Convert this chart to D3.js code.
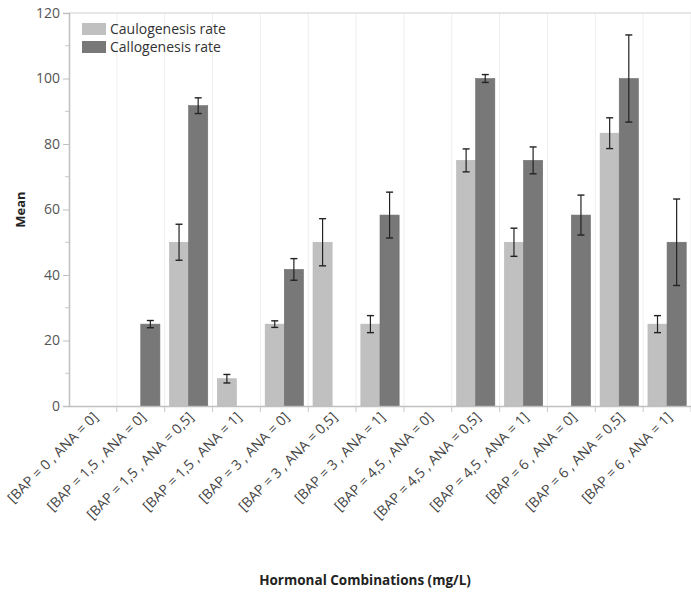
<!DOCTYPE html>
<html><head><meta charset="utf-8">
<script src="https://cdn.jsdelivr.net/npm/d3@7"></script>
<style>body{margin:0;background:#fff}svg{display:block}</style>
</head><body>
<svg id="c" width="691" height="594"></svg>
<script>
const categories = ["[BAP = 0 , ANA = 0]","[BAP = 1,5 , ANA = 0]","[BAP = 1,5 , ANA = 0,5]","[BAP = 1,5 , ANA = 1]","[BAP = 3 , ANA = 0]","[BAP = 3 , ANA = 0,5]","[BAP = 3 , ANA = 1]","[BAP = 4,5 , ANA = 0]","[BAP = 4,5 , ANA = 0,5]","[BAP = 4,5 , ANA = 1]","[BAP = 6 , ANA = 0]","[BAP = 6 , ANA = 0,5]","[BAP = 6 , ANA = 1]"];
const seriesNames = ["Caulogenesis rate","Callogenesis rate"];
const caulogenesis = [0,0,50,8.33,25,50,25,0,75,50,0,83.3,25];
const caulogenesisErr = [0,0,5.5,1.3,1,7.2,2.6,0,3.5,4.3,0,4.7,2.6];
const callogenesis = [0,25,91.7,0,41.7,0,58.3,0,100,75,58.3,100,50];
const callogenesisErr = [0,1.1,2.4,0,3.3,0,7,0,1.2,4.1,6.1,13.3,13.2];
const yTicks = [0,20,40,60,80,100,120];
const colors = ["#c0c0c0","#787878"];

const svg = d3.select("#c");
const font = "'Open Sans', 'Noto Sans', sans-serif";
const L=69, R=691, T=13, B=406;
const x = d3.scaleBand().domain(categories).range([L,R]).paddingInner(0).paddingOuter(0);
const x1 = d3.scaleBand().domain(seriesNames).range([0,x.bandwidth()]).paddingOuter(0.25).paddingInner(0);
const y = d3.scaleLinear().domain([0,120]).range([B,T]);

const bounds = categories.map(c=>x(c)).slice(1).concat([x(categories[categories.length-1])+x.bandwidth()]);
svg.append("g").selectAll("line").data(bounds).join("line")
  .attr("x1",d=>d).attr("x2",d=>d).attr("y1",T).attr("y2",B)
  .attr("stroke","#eeeeee").attr("stroke-width",1);
svg.append("line").attr("x1",L).attr("x2",R).attr("y1",y(120)).attr("y2",y(120)).attr("stroke","#cfcfcf").attr("stroke-width",1.2);

const data = categories.map((c,i)=>({c, vals:[
  {s:seriesNames[0], v:caulogenesis[i], e:caulogenesisErr[i], k:0},
  {s:seriesNames[1], v:callogenesis[i], e:callogenesisErr[i], k:1}]}));
const g = svg.append("g").selectAll("g").data(data).join("g").attr("transform",d=>`translate(${x(d.c)},0)`);
g.selectAll("rect").data(d=>d.vals.filter(v=>v.v>0)).join("rect")
  .attr("x",d=>x1(d.s)).attr("width",x1.bandwidth())
  .attr("y",d=>y(d.v)).attr("height",d=>y(0)-y(d.v))
  .attr("fill",d=>colors[d.k]).attr("stroke",d=>d.k?"#6e6e6e":"#b8b8b8").attr("stroke-width",0.6);
const eb = g.selectAll("g.eb").data(d=>d.vals.filter(v=>v.v>0)).join("g").attr("class","eb");
eb.append("line").attr("x1",d=>x1(d.s)+x1.bandwidth()/2).attr("x2",d=>x1(d.s)+x1.bandwidth()/2)
  .attr("y1",d=>y(d.v+d.e)).attr("y2",d=>y(d.v-d.e)).attr("stroke","#222").attr("stroke-width",1.2);
eb.selectAll("line.cap").data(d=>[{d, v:d.v+d.e},{d, v:d.v-d.e}]).join("line").attr("class","cap")
  .attr("x1",o=>x1(o.d.s)+x1.bandwidth()/2-3.5).attr("x2",o=>x1(o.d.s)+x1.bandwidth()/2+3.5)
  .attr("y1",o=>y(o.v)).attr("y2",o=>y(o.v)).attr("stroke","#222").attr("stroke-width",1.4);

const minor = d3.range(10,120,20);
svg.append("g").selectAll("line").data(minor).join("line")
  .attr("x1",L-4).attr("x2",L).attr("y1",d=>y(d)).attr("y2",d=>y(d)).attr("stroke","#c8c8c8");
const ya = svg.append("g").attr("transform",`translate(${L},0)`)
  .call(d3.axisLeft(y).tickValues(yTicks).tickSize(6).tickPadding(3));
ya.select(".domain").attr("stroke","#c0c0c0").attr("stroke-width",1.5);
ya.selectAll(".tick line").attr("stroke","#c0c0c0");
ya.selectAll(".tick text").attr("font-family",font).attr("font-size",14).attr("fill","#555");

const xa = svg.append("g").attr("transform",`translate(0,${B})`)
  .call(d3.axisBottom(x).tickSize(0).tickFormat(""));
xa.select(".domain").attr("stroke","#c0c0c0").attr("stroke-width",1.5);
svg.append("g").selectAll("line").data(bounds).join("line")
  .attr("x1",d=>d).attr("x2",d=>d).attr("y1",B).attr("y2",B+6).attr("stroke","#c8c8c8");
svg.append("g").selectAll("text").data(categories).join("text")
  .attr("transform",d=>`translate(${x(d)+x.bandwidth()/2+6},${B+12}) rotate(-45)`)
  .attr("text-anchor","end").attr("font-family",font).attr("font-size",14).attr("fill","#444")
  .text(d=>d);

svg.append("text").attr("transform",`translate(25,${(T+B)/2}) rotate(-90)`)
  .attr("text-anchor","middle").attr("font-family",font).attr("font-size",13).attr("font-weight","bold").attr("fill","#222").text("Mean");
svg.append("text").attr("x",365).attr("y",585).attr("text-anchor","middle")
  .attr("font-family",font).attr("font-size",13.5).attr("font-weight","bold").attr("fill","#222").text("Hormonal Combinations (mg/L)");

const lg = svg.append("g").selectAll("g").data(seriesNames).join("g")
  .attr("transform",(d,i)=>`translate(82,${23+i*18})`);
lg.append("rect").attr("width",24).attr("height",12).attr("fill",(d,i)=>colors[i]);
lg.append("text").attr("x",28).attr("y",11).attr("font-family",font).attr("font-size",14).attr("fill","#333").text(d=>d);
</script>
</body></html>
